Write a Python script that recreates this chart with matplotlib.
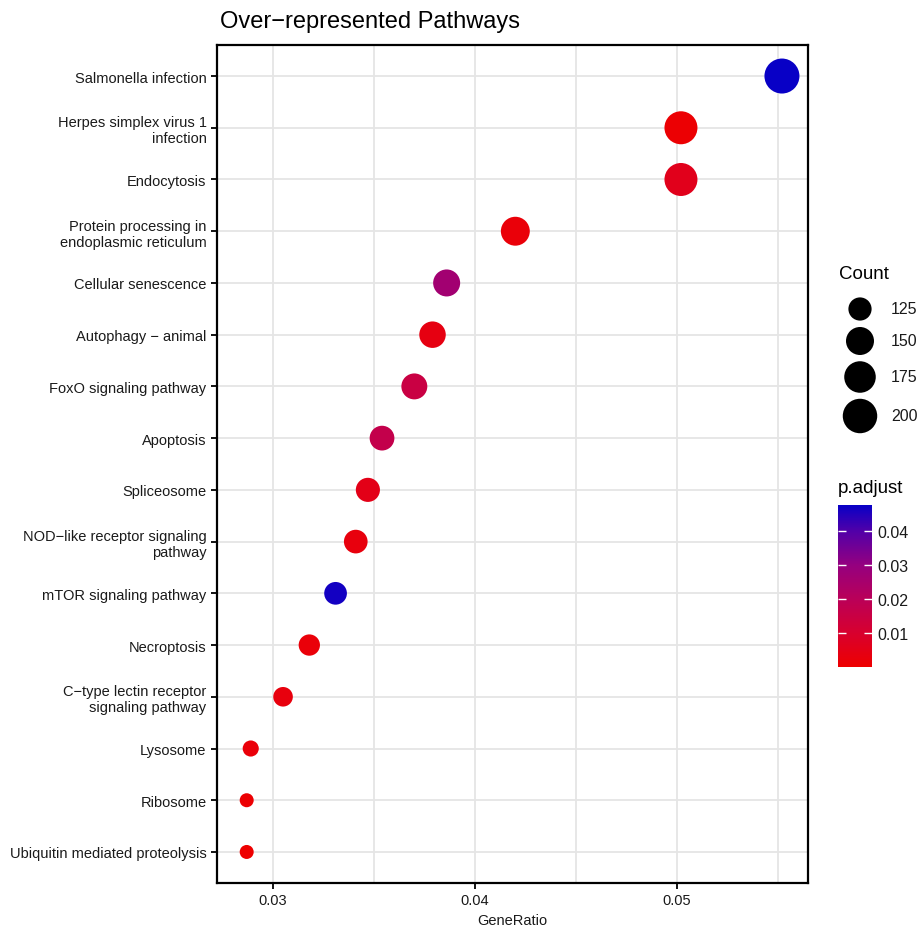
import numpy as np
import matplotlib
matplotlib.use("Agg")
import matplotlib.pyplot as plt
from matplotlib.colors import LinearSegmentedColormap, Normalize

plt.rcParams['font.family'] = ['Liberation Sans', 'DejaVu Sans']

pathways = ["Salmonella infection", "Herpes simplex virus 1\ninfection", "Endocytosis",
            "Protein processing in\nendoplasmic reticulum", "Cellular senescence",
            "Autophagy \u2212 animal", "FoxO signaling pathway", "Apoptosis", "Spliceosome",
            "NOD\u2212like receptor signaling\npathway", "mTOR signaling pathway", "Necroptosis",
            "C\u2212type lectin receptor\nsignaling pathway", "Lysosome", "Ribosome",
            "Ubiquitin mediated proteolysis"]
gene_ratio = [0.0552, 0.0502, 0.0502, 0.0420, 0.0386, 0.0379, 0.0370, 0.0354,
              0.0347, 0.0341, 0.0331, 0.0318, 0.0305, 0.0289, 0.0287, 0.0287]
count = [205, 187, 187, 156, 144, 141, 138, 132, 129, 127, 123, 118, 113, 107, 106, 106]
p_adjust = [0.0477, 0.0010, 0.0060, 0.0020, 0.0265, 0.0040, 0.0150, 0.0170,
            0.0050, 0.0030, 0.0465, 0.0020, 0.0030, 0.0020, 0.0010, 0.0001]
count_breaks = [125, 150, 175, 200]
p_ticks = [0.01, 0.02, 0.03, 0.04]

W, H = 921, 928

# colours (red low -> blue high)
lo_p, hi_p = min(p_adjust), max(p_adjust)
stops = [(0.0, "#EE0000"), (0.01, "#D8002E"), (0.02, "#BA0058"),
         (0.03, "#95007F"), (0.04, "#5200A8"), (hi_p, "#0800C6")]
cmap = LinearSegmentedColormap.from_list(
    "padj", [(max(0.0, (v - lo_p) / (hi_p - lo_p)), c) for v, c in stops])
norm = Normalize(lo_p, hi_p)


def diam(c):
    c = np.asarray(c, float)
    return 14 + 21 * np.sqrt((c - min(count)) / (max(count) - min(count)))


fig = plt.figure(figsize=(W / 100, H / 100), dpi=100)
ax = fig.add_axes([217 / W, 1 - 884 / H, 591 / W, 838 / H])

y = np.arange(len(pathways))[::-1]
sc = ax.scatter(gene_ratio, y, s=(diam(count) * 0.72) ** 2, c=p_adjust, cmap=cmap, norm=norm,
                linewidths=0, zorder=3)

ax.set_xlim(0.02723, 0.05649)
ax.set_ylim(-0.6, len(pathways) - 0.4)
ax.set_xticks([0.03, 0.04, 0.05])
ax.set_xticklabels(["0.03", "0.04", "0.05"])
ax.set_xticks([0.035, 0.045, 0.055], minor=True)
ax.set_yticks(y)
ax.set_yticklabels(pathways, fontsize=10.5, color="#1a1a1a", linespacing=1.2)
ax.tick_params(axis="x", labelsize=10.5, labelcolor="#1a1a1a")
ax.tick_params(which="major", length=4, width=1.3, color="black")
ax.tick_params(which="minor", length=0)
ax.grid(True, which="both", color="#e5e5e5", linewidth=1.3, zorder=0)
ax.set_axisbelow(True)
for sp in ax.spines.values():
    sp.set_linewidth(1.6)
ax.set_xlabel("GeneRatio", fontsize=10.5, color="#1a1a1a", labelpad=4)

fig.text(220 / W, 1 - 22 / H, "Over\u2212represented Pathways", fontsize=17, va="center", ha="left")

# size legend
lax = fig.add_axes([0, 0, 1, 1])
lax.set_xlim(0, W)
lax.set_ylim(H, 0)
lax.axis("off")
lax.text(839, 275, "Count", fontsize=13.5, va="center", ha="left")
leg_y = [310, 342, 378, 417]
lax.scatter([860] * len(count_breaks), leg_y, s=(diam(count_breaks) * 0.72) ** 2, color="black",
            linewidths=0)
for yy, b in zip(leg_y, count_breaks):
    lax.text(891, yy, str(b), fontsize=11.5, va="center", ha="left", color="#1a1a1a")
lax.text(838, 489, "p.adjust", fontsize=13.5, va="center", ha="left")

# colour bar
cax = fig.add_axes([838 / W, 1 - 668 / H, 34 / W, 162 / H])
cb = fig.colorbar(sc, cax=cax, ticks=p_ticks)
cb.outline.set_visible(False)
cb.ax.set_yticklabels(["0.01", "0.02", "0.03", "0.04"])
cax.yaxis.set_ticks_position("both")
cax.tick_params(direction="in", color="white", length=6, width=1, labelsize=11.5,
                labelcolor="#1a1a1a", pad=4, labelleft=False, labelright=True)

fig.savefig("out.png", dpi=100)
